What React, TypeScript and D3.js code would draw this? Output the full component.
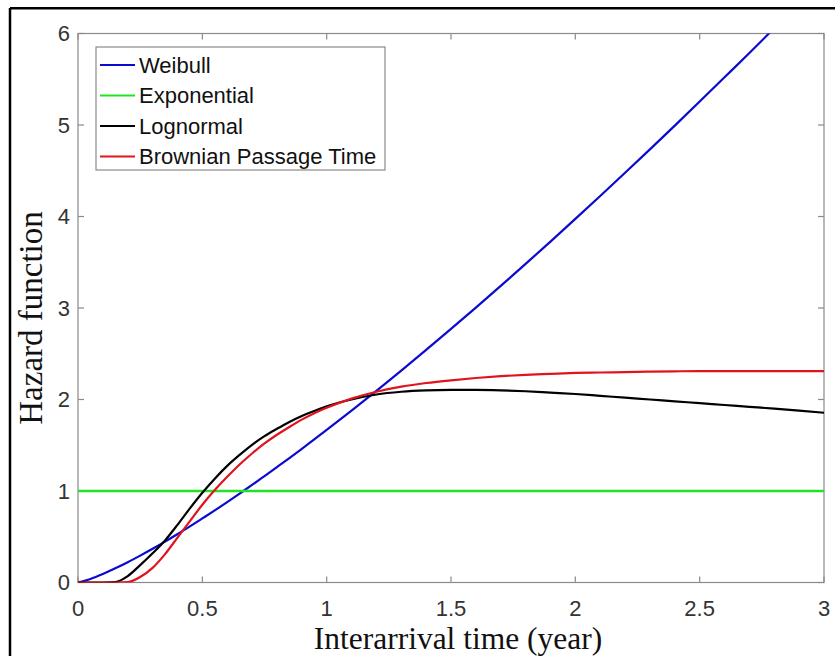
import React from "react";
import * as d3 from "d3";

const times = [0, 0.05, 0.1, 0.15, 0.2, 0.25, 0.3, 0.35, 0.4, 0.45, 0.5, 0.55, 0.6, 0.65, 0.7, 0.75, 0.8, 0.85, 0.9, 0.95, 1.0,
  1.1, 1.2, 1.3, 1.4, 1.5, 1.6, 1.7, 1.8, 1.9, 2.0, 2.1, 2.2, 2.3, 2.4, 2.5, 2.6, 2.7, 2.8, 2.9, 3.0];

const weibull = [0, 0.039, 0.093, 0.155, 0.222, 0.294, 0.369, 0.447, 0.529, 0.613, 0.700, 0.788, 0.879, 0.972, 1.066, 1.163, 1.261, 1.360, 1.461, 1.563, 1.667,
  1.879, 2.095, 2.316, 2.542, 2.771, 3.005, 3.242, 3.482, 3.726, 3.974, 4.224, 4.478, 4.734, 4.993, 5.256, 5.521, 5.787, 6.058, 6.330, 6.604];

const lognormal = [0, 0, 0, 0.005, 0.07, 0.19, 0.32, 0.46, 0.63, 0.81, 0.98, 1.135, 1.275, 1.395, 1.505, 1.60, 1.68, 1.755, 1.82, 1.875, 1.925,
  2.00, 2.055, 2.085, 2.10, 2.105, 2.105, 2.10, 2.09, 2.075, 2.06, 2.04, 2.02, 2.00, 1.98, 1.96, 1.94, 1.92, 1.90, 1.878, 1.855];

const bpt = [0, 0, 0, 0, 0.005, 0.06, 0.16, 0.31, 0.49, 0.67, 0.85, 1.01, 1.155, 1.29, 1.41, 1.52, 1.615, 1.70, 1.78, 1.85, 1.91,
  2.01, 2.085, 2.14, 2.18, 2.21, 2.235, 2.255, 2.27, 2.28, 2.29, 2.295, 2.30, 2.305, 2.308, 2.31, 2.31, 2.31, 2.31, 2.31, 2.31];

const expTimes = [0, 3];
const exponential = [1, 1];

const xTicks = [0, 0.5, 1, 1.5, 2, 2.5, 3];
const yTicks = [0, 1, 2, 3, 4, 5, 6];

const seriesNames = ["Weibull", "Exponential", "Lognormal", "Brownian Passage Time"];
const seriesColors = ["#0a0ad0", "#22e322", "#000000", "#e0141e"];

export default function App() {
  const W = 835, H = 656;
  const left = 78, right = 824, top = 33.5, bottom = 582.5;
  const x = d3.scaleLinear().domain([0, 3]).range([left, right]);
  const y = d3.scaleLinear().domain([0, 6]).range([bottom, top]);
  const line = d3.line<[number, number]>().x(d => x(d[0])).y(d => y(d[1])).curve(d3.curveMonotoneX);

  const series = [
    { name: seriesNames[0], color: seriesColors[0], pts: times.map((t, i) => [t, weibull[i]] as [number, number]), w: 2.2 },
    { name: seriesNames[1], color: seriesColors[1], pts: expTimes.map((t, i) => [t, exponential[i]] as [number, number]), w: 2.6 },
    { name: seriesNames[2], color: seriesColors[2], pts: times.map((t, i) => [t, lognormal[i]] as [number, number]), w: 2.2 },
    { name: seriesNames[3], color: seriesColors[3], pts: times.map((t, i) => [t, bpt[i]] as [number, number]), w: 2.2 },
  ];

  const axisColor = "#8a8a8a";
  const labelColor = "#333333";
  const tickLen = 6;
  const font = "'Liberation Sans', Arial, Helvetica, sans-serif";
  const serif = "'Liberation Serif', 'Times New Roman', serif";

  return (
    <svg width={W} height={H} style={{ position: "absolute", left: 0, top: 0, background: "#fff" }}>
      <rect x={0} y={0} width={W} height={H} fill="#fff" />
      {/* outer frame */}
      <line x1={10} y1={8} x2={10} y2={H} stroke="#000" strokeWidth={2.5} />
      <line x1={10} y1={8.3} x2={W} y2={8.3} stroke="#000" strokeWidth={2.5} />

      <defs>
        <clipPath id="plotclip">
          <rect x={left} y={top} width={right - left} height={bottom - top} />
        </clipPath>
      </defs>

      {/* axes box */}
      <rect x={left} y={top} width={right - left} height={bottom - top} fill="none" stroke={axisColor} strokeWidth={1.2} />
      {xTicks.map(t => (
        <g key={"xt" + t}>
          <line x1={x(t)} x2={x(t)} y1={bottom} y2={bottom - tickLen} stroke={axisColor} strokeWidth={1.2} />
          <line x1={x(t)} x2={x(t)} y1={top} y2={top + tickLen} stroke={axisColor} strokeWidth={1.2} />
          <text x={x(t)} y={bottom + 33} textAnchor="middle" fontFamily={font} fontSize={22} fill={labelColor}>{String(t)}</text>
        </g>
      ))}
      {yTicks.map(v => (
        <g key={"yt" + v}>
          <line x1={left} x2={left + tickLen} y1={y(v)} y2={y(v)} stroke={axisColor} strokeWidth={1.2} />
          <line x1={right} x2={right - tickLen} y1={y(v)} y2={y(v)} stroke={axisColor} strokeWidth={1.2} />
          <text x={70} y={y(v)} dy="0.36em" textAnchor="end" fontFamily={font} fontSize={22} fill={labelColor}>{String(v)}</text>
        </g>
      ))}

      {/* series */}
      <g clipPath="url(#plotclip)">
        {series.map(s => (
          <path key={s.name} d={line(s.pts) || ""} fill="none" stroke={s.color} strokeWidth={s.w} strokeLinejoin="round" />
        ))}
      </g>

      {/* legend */}
      <rect x={96} y={47} width={289} height={123} fill="#fff" stroke={axisColor} strokeWidth={1.2} />
      {series.map((s, i) => {
        const cy = 65 + i * 30.5;
        return (
          <g key={"lg" + s.name}>
            <line x1={100} x2={135} y1={cy} y2={cy} stroke={s.color} strokeWidth={2.2} />
            <text x={139} y={cy} dy="0.36em" fontFamily={font} fontSize={22} fill="#111">{s.name}</text>
          </g>
        );
      })}

      {/* axis titles */}
      <text x={458} y={649} textAnchor="middle" fontFamily={serif} fontSize={31.5} fill="#111">Interarrival time (year)</text>
      <text transform={`translate(41.5, 318) rotate(-90)`} textAnchor="middle" fontFamily={serif} fontSize={33} fill="#111">Hazard function</text>
    </svg>
  );
}
